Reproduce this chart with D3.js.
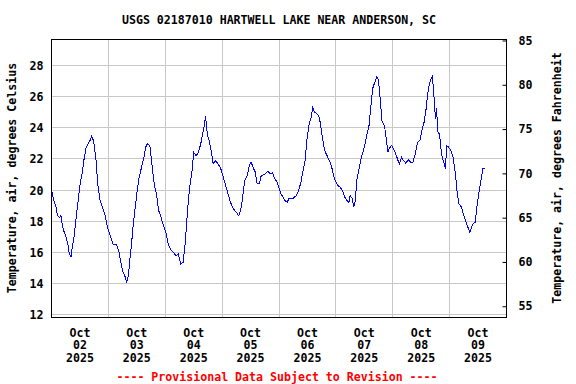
<!DOCTYPE html>
<html>
<head>
<meta charset="utf-8">
<script src="https://cdn.jsdelivr.net/npm/d3@7"></script>
<style>
  body { margin: 0; background: #fff; }
  svg text { font-family: "DejaVu Sans Mono", monospace; font-weight: bold; font-size: 11.6px; fill: #000; }
</style>
</head>
<body>
<div id="viz"></div>
<script>
// Hartwell Lake air temperature, Oct 2 - Oct 9 2025
const titleText = "USGS 02187010 HARTWELL LAKE NEAR ANDERSON, SC";
const leftLabel = "Temperature, air, degrees Celsius";
const rightLabel = "Temperature, air, degrees Fahrenheit";
const noteText = "---- Provisional Data Subject to Revision ----";

const times = [
  "10-02 00:00","10-02 00:30","10-02 01:15","10-02 02:00","10-02 02:30","10-02 03:30","10-02 04:00","10-02 04:30",
  "10-02 05:15","10-02 06:15","10-02 07:00","10-02 07:30","10-02 08:15","10-02 08:45","10-02 09:30","10-02 10:30",
  "10-02 11:15","10-02 12:00","10-02 13:00","10-02 13:45","10-02 14:30","10-02 15:30","10-02 16:15","10-02 17:00",
  "10-02 17:45","10-02 18:45","10-02 19:30","10-02 20:30","10-02 21:30","10-02 22:30","10-02 23:30",
  "10-03 00:45","10-03 02:00","10-03 03:30","10-03 04:30","10-03 05:15","10-03 06:15","10-03 07:15","10-03 07:45",
  "10-03 08:30","10-03 09:00","10-03 09:45","10-03 10:30","10-03 11:30","10-03 12:15","10-03 13:00","10-03 14:00",
  "10-03 15:00","10-03 15:45","10-03 16:30","10-03 17:30","10-03 18:30","10-03 19:30","10-03 20:15","10-03 21:15",
  "10-03 22:15","10-03 23:15",
  "10-04 00:15","10-04 01:15","10-04 02:15","10-04 03:30","10-04 04:30","10-04 05:30","10-04 06:30","10-04 07:30",
  "10-04 08:15","10-04 09:00","10-04 09:45","10-04 10:30","10-04 11:15","10-04 12:00","10-04 13:00","10-04 14:00",
  "10-04 15:00","10-04 15:45","10-04 16:30","10-04 17:00","10-04 17:45","10-04 18:30","10-04 19:30","10-04 20:15",
  "10-04 21:15","10-04 22:15","10-04 23:15",
  "10-05 00:30","10-05 01:30","10-05 02:30","10-05 03:30","10-05 04:45","10-05 05:45","10-05 07:00","10-05 07:45",
  "10-05 08:30","10-05 09:30","10-05 10:30","10-05 11:30","10-05 12:15","10-05 13:00","10-05 14:00","10-05 14:45",
  "10-05 15:45","10-05 16:30","10-05 18:00","10-05 19:15","10-05 20:15","10-05 21:15","10-05 22:15","10-05 23:15",
  "10-06 00:00","10-06 00:45","10-06 01:45","10-06 02:30","10-06 03:30","10-06 04:15","10-06 05:15","10-06 06:15",
  "10-06 07:15","10-06 08:15","10-06 09:15","10-06 10:00","10-06 11:00","10-06 11:45","10-06 12:45","10-06 13:30",
  "10-06 14:15","10-06 15:00","10-06 16:00","10-06 16:45","10-06 17:30","10-06 18:15","10-06 19:15","10-06 20:15",
  "10-06 21:15","10-06 22:15","10-06 23:00","10-06 23:45",
  "10-07 00:45","10-07 01:45","10-07 02:45","10-07 03:45","10-07 04:45","10-07 05:30","10-07 06:00","10-07 07:00",
  "10-07 07:30","10-07 08:15","10-07 08:45","10-07 09:45","10-07 10:45","10-07 12:00","10-07 13:00","10-07 14:00",
  "10-07 14:45","10-07 15:30","10-07 16:30","10-07 17:15","10-07 18:00","10-07 18:45","10-07 19:30","10-07 20:30",
  "10-07 21:15","10-07 22:00","10-07 22:30","10-07 23:30",
  "10-08 00:15","10-08 01:15","10-08 02:00","10-08 02:45","10-08 03:45","10-08 04:30","10-08 05:30","10-08 06:30",
  "10-08 07:30","10-08 08:30","10-08 09:30","10-08 10:30","10-08 11:30","10-08 12:15","10-08 13:15","10-08 14:00",
  "10-08 14:45","10-08 15:30","10-08 16:15","10-08 16:45","10-08 17:30","10-08 18:00","10-08 18:30","10-08 19:00",
  "10-08 19:45","10-08 20:15","10-08 20:45","10-08 21:30","10-08 22:15","10-08 22:45","10-08 23:30",
  "10-09 00:30","10-09 01:30","10-09 02:30","10-09 03:15","10-09 04:00","10-09 05:00","10-09 06:00","10-09 07:00",
  "10-09 07:45","10-09 08:30","10-09 09:45","10-09 10:45","10-09 11:30","10-09 12:15","10-09 13:00","10-09 14:00",
  "10-09 15:00"
];

const tempC = [
  20.0,19.65,19.2,18.9,18.36,18.25,18.36,17.8,
  17.35,16.96,16.43,15.9,15.72,16.3,16.96,18.36,
  19.33,20.3,21.15,22.0,22.66,22.98,23.19,23.47,
  23.15,22.0,20.4,19.33,18.9,18.47,17.7,
  17.07,16.5,16.5,16.0,15.35,14.7,14.38,14.06,
  14.6,15.46,16.5,17.8,19.1,20.08,20.83,21.47,
  22.1,22.76,22.98,22.87,21.47,20.23,19.76,18.68,
  18.25,17.7,
  17.28,16.54,16.2,16.0,15.78,15.9,15.25,15.35,
  16.3,17.8,19.33,20.4,21.15,22.43,22.2,22.43,
  22.98,23.6,24.16,24.76,23.6,23.19,22.43,21.68,
  21.9,21.68,21.47,
  20.83,20.3,19.76,19.22,18.8,18.62,18.36,18.68,
  19.33,20.6,20.9,21.58,21.8,21.47,21.15,20.4,
  20.4,20.94,21.0,21.2,21.05,21.1,20.72,20.5,
  20.14,19.76,19.54,19.33,19.22,19.5,19.43,19.5,
  19.65,19.97,20.5,21.15,21.9,23.19,24.27,24.6,
  25.3,25.0,24.9,24.8,24.27,23.4,22.55,22.22,
  21.9,21.47,20.94,20.6,
  20.3,20.2,19.97,19.54,19.33,19.22,19.65,19.43,
  18.9,19.33,20.6,21.37,22.1,22.76,23.5,24.16,
  25.34,26.52,26.95,27.27,27.06,25.77,24.37,24.16,
  23.3,22.43,22.66,22.87,
  22.66,22.33,22.0,21.68,22.1,21.9,21.73,21.95,
  21.8,21.8,22.33,23.08,23.19,23.83,24.37,25.12,
  26.2,26.84,27.17,27.31,25.77,24.6,25.24,23.73,
  23.6,22.76,22.22,21.8,21.37,22.87,22.76,
  22.55,22.1,20.94,19.76,19.1,18.9,18.36,17.93,
  17.6,17.28,17.8,17.93,18.9,19.76,20.4,21.37,
  21.43
];

const days = ["2025-10-02","2025-10-03","2025-10-04","2025-10-05","2025-10-06","2025-10-07","2025-10-08","2025-10-09","2025-10-10"];
const cTicks = [12, 14, 16, 18, 20, 22, 24, 26, 28];
const fTicks = [55, 60, 65, 70, 75, 80, 85];

const W = 576, H = 384;
const margin = {top: 39, right: 69, bottom: 67, left: 51},
    width = W - margin.left - margin.right,
    height = H - margin.top - margin.bottom;

const parseTime = d3.timeParse("%Y-%m-%d %H:%M");
const parseDay = d3.timeParse("%Y-%m-%d");
const data = times.map((t, i) => ({ date: parseTime("2025-" + t), value: tempC[i] }));
const dayDates = days.map(parseDay);

const svg = d3.select("#viz")
    .append("svg")
        .attr("width", W)
        .attr("height", H);
const g = svg.append("g")
        .attr("transform", `translate(${margin.left + 0.5},${margin.top + 0.5})`);

const x = d3.scaleTime()
    .domain([dayDates[0], dayDates[dayDates.length - 1]])
    .range([0, width - 1]);

// the two temperature axes on the USGS plot do not line up exactly, so each gets its own domain
const y = d3.scaleLinear()
    .domain([11.82, 29.67])
    .range([height, 0]);
const yF = d3.scaleLinear()
    .domain([53.73, 85.11])
    .range([height, 0]);

const snap = v => Math.round(v);

// grid
g.append("g")
    .selectAll("line.h")
    .data(cTicks)
    .join("line")
        .attr("x1", 0).attr("x2", width - 1)
        .attr("y1", d => snap(y(d))).attr("y2", d => snap(y(d)))
        .attr("stroke", "#c8c8c8");
g.append("g")
    .selectAll("line.v")
    .data(dayDates.slice(1, -1))
    .join("line")
        .attr("x1", d => snap(x(d))).attr("x2", d => snap(x(d)))
        .attr("y1", 0).attr("y2", height)
        .attr("stroke", "#c8c8c8");

// data line (aliased, like the GD-drawn original)
g.append("path")
    .datum(data)
    .attr("fill", "none")
    .attr("stroke", "#0000ff")
    .attr("stroke-width", 1)
    .attr("shape-rendering", "crispEdges")
    .attr("d", d3.line()
        .x(d => x(d.date))
        .y(d => y(d.value)));

// frame
g.append("rect")
    .attr("x", 0).attr("y", 0)
    .attr("width", width - 1).attr("height", height)
    .attr("fill", "none")
    .attr("stroke", "#000");

// left axis (Celsius)
const left = g.append("g")
    .call(d3.axisLeft(y).tickValues(cTicks).tickSize(0).tickPadding(8));
left.select(".domain").remove();
left.selectAll("text").attr("font-family", null).attr("font-size", null).attr("y", d => snap(y(d)) - y(d));

// right axis (Fahrenheit)
const right = g.append("g")
    .attr("transform", `translate(${width - 1},0)`)
    .call(d3.axisRight(yF).tickValues(fTicks).tickSize(-4).tickPadding(12));
right.select(".domain").remove();
right.selectAll("line").attr("stroke", "#000");
right.selectAll("text").attr("font-family", null).attr("font-size", null);

// day labels centered at noon
const lbl = g.append("g")
    .selectAll("text")
    .data(dayDates.slice(0, -1))
    .join("text")
        .attr("text-anchor", "middle")
        .attr("transform", d => `translate(${x(d3.timeHour.offset(d, 12))},${height + 19})`);
lbl.append("tspan").attr("x", 0).attr("y", 0).text("Oct");
lbl.append("tspan").attr("x", 0).attr("y", 12.8).text(d => d3.timeFormat("%d")(d));
lbl.append("tspan").attr("x", 0).attr("y", 25.6).text(d => d3.timeFormat("%Y")(d));

// title
svg.append("text")
    .attr("x", margin.left + width / 2)
    .attr("y", 24)
    .attr("text-anchor", "middle")
    .text(titleText);

// axis titles
svg.append("text")
    .attr("transform", `translate(16,${margin.top + height / 2}) rotate(-90)`)
    .attr("text-anchor", "middle")
    .text(leftLabel);
svg.append("text")
    .attr("transform", `translate(561,${margin.top + height / 2}) rotate(-90)`)
    .attr("text-anchor", "middle")
    .text(rightLabel);

// provisional note
svg.append("text")
    .attr("x", margin.left + width / 2 - 2)
    .attr("y", 381)
    .attr("text-anchor", "middle")
    .style("fill", "#ff0000")
    .text(noteText);
</script>
</body>
</html>
